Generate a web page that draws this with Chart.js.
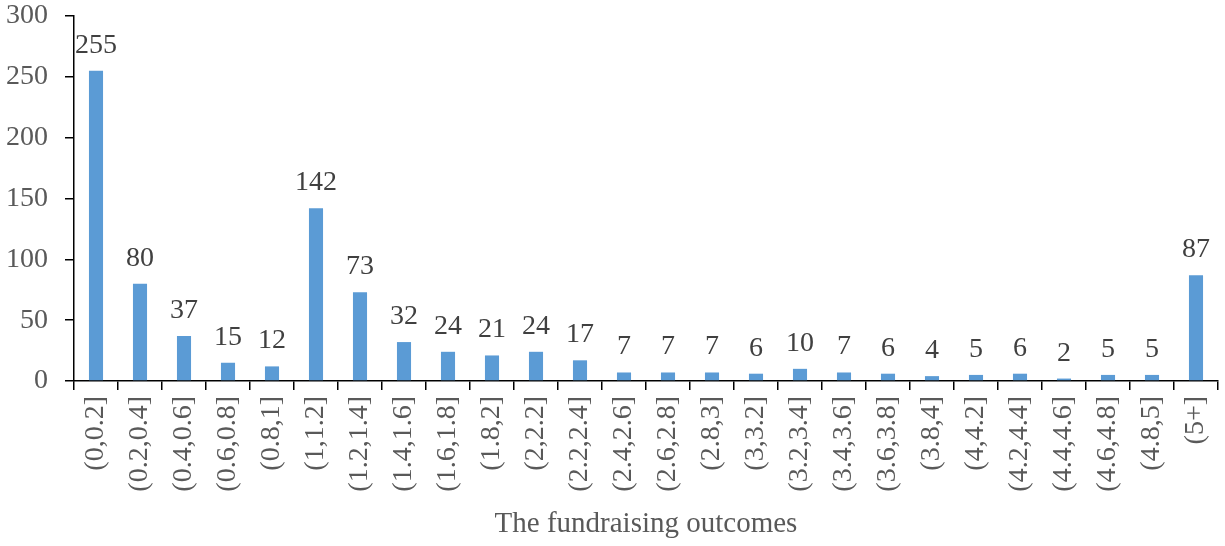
<!DOCTYPE html>
<html>
<head>
<meta charset="utf-8">
<script src="https://cdn.jsdelivr.net/npm/chart.js@4"></script>
<style>
  html, body { margin: 0; padding: 0; background: #fff; }
  #wrap { width: 1225px; height: 546px; }
</style>
</head>
<body>
<div id="wrap"><canvas id="myChart"></canvas></div>
<script>
// categories and counts
var categories = ["(0,0.2]", "(0.2,0.4]", "(0.4,0.6]", "(0.6,0.8]", "(0.8,1]", "(1,1.2]", "(1.2,1.4]",
  "(1.4,1.6]", "(1.6,1.8]", "(1.8,2]", "(2,2.2]", "(2.2,2.4]", "(2.4,2.6]", "(2.6,2.8]", "(2.8,3]",
  "(3,3.2]", "(3.2,3.4]", "(3.4,3.6]", "(3.6,3.8]", "(3.8,4]", "(4,4.2]", "(4.2,4.4]", "(4.4,4.6]",
  "(4.6,4.8]", "(4.8,5]", "(5+]"];
var counts = [255, 80, 37, 15, 12, 142, 73, 32, 24, 21, 24, 17, 7, 7, 7, 6, 10, 7, 6, 4, 5, 6, 2, 5, 5, 87];
var yTicks = [0, 50, 100, 150, 200, 250, 300];

var serif = "'Liberation Serif', 'Times New Roman', serif";

// draw the number above each bar
var valueLabels = {
  id: "valueLabels",
  afterDatasetsDraw: function(chart) {
    var ctx = chart.ctx;
    var meta = chart.getDatasetMeta(0);
    ctx.save();
    ctx.font = "28px " + serif;
    ctx.fillStyle = "#404040";
    ctx.textAlign = "center";
    ctx.textBaseline = "alphabetic";
    meta.data.forEach(function(bar, i) {
      ctx.fillText(counts[i], bar.x, bar.y - 18);
    });
    ctx.restore();
  }
};

var ctx = document.getElementById("myChart");
var chart = new Chart(ctx, {
  type: "bar",
  data: {
    labels: categories,
    datasets: [{
      data: counts,
      backgroundColor: "#5B9BD5",
      barPercentage: 0.64,
      categoryPercentage: 0.5
    }]
  },
  options: {
    responsive: true,
    maintainAspectRatio: false,
    animation: false,
    layout: { padding: { top: 16, right: 7, left: 0, bottom: 0 } },
    plugins: {
      legend: { display: false },
      tooltip: { enabled: false }
    },
    scales: {
      x: {
        grid: { offset: true, drawOnChartArea: false, tickLength: 9, color: "#000", lineWidth: 1.5 },
        border: { color: "#000", width: 1.5 },
        ticks: {
          minRotation: 90, maxRotation: 90, autoSkip: false, padding: 6,
          color: "#595959", font: { family: serif, size: 28 }
        },
        title: {
          display: true, text: "The fundraising outcomes", color: "#595959",
          font: { family: serif, size: 29 }, padding: { top: 0, bottom: 4 }
        },
        afterFit: function(scale) {
          scale.height = 165;
          scale.paddingLeft = 0;
          scale.paddingRight = 0;
        }
      },
      y: {
        min: 0, max: 300,
        afterBuildTicks: function(scale) {
          scale.ticks = yTicks.map(function(v) { return { value: v }; });
        },
        grid: { drawOnChartArea: false, tickLength: 9, color: "#000", lineWidth: 1.5 },
        border: { color: "#000", width: 1.5 },
        ticks: { padding: 17, color: "#595959", font: { family: serif, size: 28 } },
        afterFit: function(scale) {
          scale.width = 74;
          scale.paddingTop = 0;
          scale.paddingBottom = 0;
        }
      }
    }
  },
  plugins: [valueLabels]
});
</script>
</body>
</html>
